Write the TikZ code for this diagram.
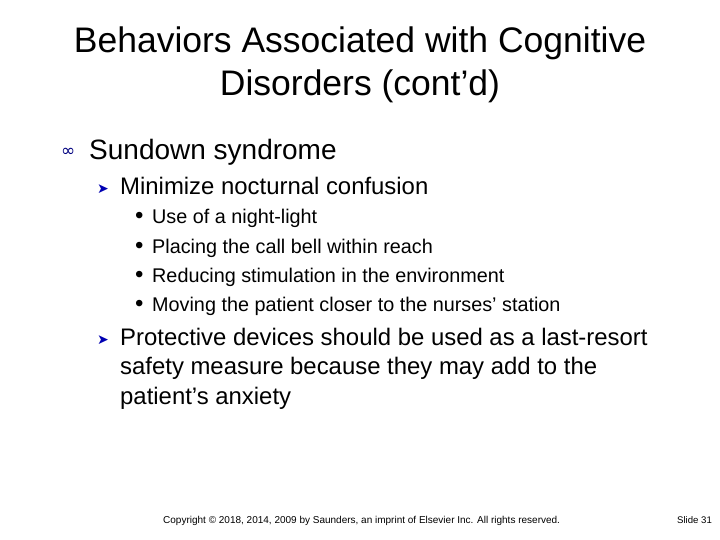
\documentclass[tikz,border=0pt]{standalone}
\usepackage{fontspec}
\setmainfont{Liberation Sans}
\newfontfamily\symfont{DejaVu Sans}
\begin{document}
\begin{tikzpicture}[x=1pt,y=-1pt]
    \tikzstyle{txt}=[anchor=base west,inner sep=0pt]
    \tikzstyle{lvlone}=[txt,font=\fontsize{28}{31}\selectfont]
    \tikzstyle{lvltwo}=[txt,font=\fontsize{23.9}{29.5}\selectfont]
    \tikzstyle{lvlthree}=[txt,font=\fontsize{19.8}{29}\selectfont]
    \useasboundingbox[fill=white] (0,0) rectangle (720,540);
    \node[inner sep=0pt,align=center,anchor=north,font=\fontsize{35.5}{43}\selectfont] (title) at (360,27)
      {Behaviors Associated with Cognitive\\Disorders (cont’d)};
    \node[txt,font=\symfont\fontsize{17}{17}\selectfont,text=blue!50!black] (b1) at (61,157) {∞};
    \node[lvlone] (sundown) at (89,160) {Sundown syndrome};
    \node[txt,font=\symfont\fontsize{14}{14}\selectfont,text=blue!70!black] (a1) at (97,194) {➤};
    \node[lvltwo] (minimize) at (120,195) {Minimize nocturnal confusion};
    \foreach \t [count=\i] in {Use of a night-light,Placing the call bell within reach,
        Reducing stimulation in the environment,Moving the patient closer to the nurses’ station}{
      \node[lvlthree] (dot\i) at (135,224+29*\i-29) {\fontsize{24}{24}\selectfont•};
      \node[lvlthree] (item\i) at (152,224+29*\i-29) {\t};
    }
    \node[txt,font=\symfont\fontsize{14}{14}\selectfont,text=blue!70!black] (a2) at (97,344) {➤};
    % multi-line node: base anchor sits on the last line
    \node[lvltwo,align=left,anchor=base west] (devices) at (120,404)
      {Protective devices should be used as a last-resort\\safety measure because they may add to the\\patient’s anxiety};
    \node[txt,font=\fontsize{10}{12}\selectfont] (copy) at (163,523)
      {Copyright © 2018, 2014, 2009 by Saunders, an imprint of Elsevier Inc. All rights reserved.};
    \node[txt,font=\fontsize{9.6}{12}\selectfont] (slide) at (677,523) {Slide 31};
\end{tikzpicture}
\end{document}
